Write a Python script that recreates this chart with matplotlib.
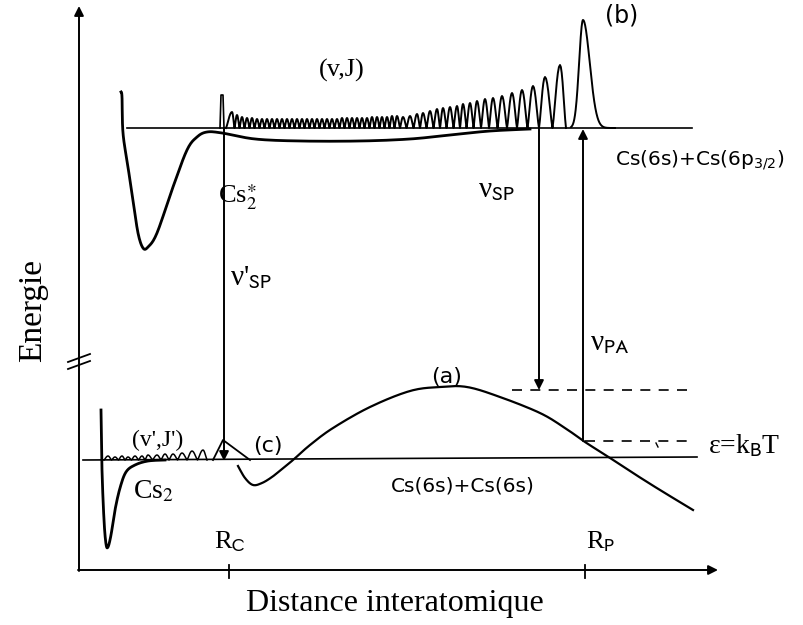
import numpy as np
import matplotlib
matplotlib.use("Agg")
import matplotlib.pyplot as plt

# schematic units: x grows to the right, y grows downwards (pixel-like)
up_pot_x = [121, 122, 123, 128, 133, 138, 143, 148, 157, 173, 187, 197, 207, 222, 255, 300, 360, 410, 450, 490, 530]
up_pot_y = [92, 97, 133, 167, 200, 233, 248, 247, 233, 187, 150, 137, 132, 133, 139, 141, 141, 139, 135, 131, 129]

low_well_x = [101, 102, 104, 106, 108, 111, 115, 120, 126, 135, 148, 165]
low_well_y = [410, 470, 520, 544, 547, 535, 510, 488, 472, 465, 461, 460]

curve_a_x = [238, 245, 253, 262, 272, 282, 293, 310, 333, 370, 410, 440, 467, 500, 540, 565, 585, 607, 633, 660, 693]
curve_a_y = [466, 478, 485, 483, 477, 469, 460, 445, 428, 407, 391, 387, 387, 397, 413, 428, 442, 456, 473, 490, 510]

up_level = 128
low_level = 460

# upper wavefunction peaks (centre, top)
up_peak_x = [222, 232, 237, 242, 247, 252, 257, 262, 267, 272, 277, 282, 287, 292, 297, 302, 307, 312,
             317, 322, 327, 332, 337, 342, 347, 352, 357, 362, 367, 372, 377, 382, 387, 392, 397,
             403, 410, 417, 423, 430, 437, 443, 450, 457, 463, 470, 477, 485, 493, 502, 512, 522,
             533, 545, 560, 583]
up_peak_y = [95, 112, 115, 117, 118, 118, 119, 119, 119, 119, 119, 119, 119, 119, 119, 119, 119, 119,
             119, 119, 119, 119, 119, 118, 118, 118, 118, 118, 118, 117, 117, 117, 117, 116, 116,
             117, 116, 114, 113, 111, 109, 108, 107, 106, 104, 103, 101, 99, 98, 96, 93, 90,
             86, 77, 65, 20]

# lower wavefunction bumps (v',J') and peak (c)
low_peak_x = [108, 115, 122, 128, 135, 142, 148, 157, 165, 173, 182, 192, 203, 223]
low_peak_y = [456, 457, 456, 457, 456, 456, 455, 455, 454, 454, 453, 451, 450, 440]


def smooth(xs, ys, n=12):
    # Catmull-Rom through the points
    p = np.column_stack([xs, ys]).astype(float)
    p = np.vstack([p[0], p, p[-1]])
    out = []
    t = np.linspace(0, 1, n, endpoint=False)[:, None]
    for i in range(1, len(p) - 2):
        p0, p1, p2, p3 = p[i - 1], p[i], p[i + 1], p[i + 2]
        seg = 0.5 * ((2 * p1) + (-p0 + p2) * t + (2 * p0 - 5 * p1 + 4 * p2 - p3) * t ** 2
                     + (-p0 + 3 * p1 - 3 * p2 + p3) * t ** 3)
        out.append(seg)
    out.append(p[-2][None, :])
    out = np.vstack(out)
    return out[:, 0], out[:, 1]


def lobes(cx, top, base, edge=4):
    cx = np.asarray(cx, float)
    xs, ys = [], []
    for i, c in enumerate(cx):
        left = (c - cx[i - 1]) / 2 if i > 0 else edge
        right = (cx[i + 1] - c) / 2 if i < len(cx) - 1 else edge
        t = np.linspace(-1, 1, 15)
        w = np.where(t < 0, left, right)
        xs.append(c + t * w)
        ys.append(base - (base - top[i]) * np.cos(np.pi / 2 * t) ** 1.3)
    return np.concatenate(xs), np.concatenate(ys)


fig = plt.figure(figsize=(8.04, 6.25), dpi=100)
ax = fig.add_axes([0, 0, 1, 1])
ax.set_xlim(0, 804)
ax.set_ylim(625, 0)
ax.axis("off")

serif = "Liberation Serif"
arr = dict(arrowstyle="-|>", lw=1.4, color="k", mutation_scale=14, shrinkA=0, shrinkB=0)

# axes
ax.annotate("", xy=(79, 6), xytext=(79, 571), arrowprops=arr)
ax.annotate("", xy=(718, 570), xytext=(78, 570), arrowprops=arr)
ax.plot([68, 90], [362, 354], color="k", lw=1.3)
ax.plot([68, 90], [369, 361], color="k", lw=1.3)
for xt in [229, 585]:
    ax.plot([xt, xt], [565, 578], color="k", lw=1.3)

# asymptotes
ax.plot([127, 692], [up_level, up_level], color="k", lw=1.2)
ax.plot([83, 697], [low_level, 457], color="k", lw=1.2)

# potentials
x, y = smooth(up_pot_x, up_pot_y)
ax.plot(x, y, color="k", lw=2.0)
x, y = smooth(low_well_x, low_well_y)
ax.plot(x, y, color="k", lw=2.0)
x, y = smooth(curve_a_x, curve_a_y)
ax.plot(x, y, color="k", lw=1.6)

# upper wavefunction
x, y = lobes(up_peak_x[1:-1], up_peak_y[1:-1], up_level, edge=6)
ax.plot(x, y, color="k", lw=1.4)
ax.plot([220, 221, 223, 224], [up_level, up_peak_y[0], up_peak_y[0], up_level], color="k", lw=1.2)
# broad last peak, steeper on the left
c, h = up_peak_x[-1], up_level - up_peak_y[-1]
xx = np.linspace(c - 12, c + 32, 200)
ww = np.where(xx < c, 5.5, 9.5)
ax.plot(xx, up_level - h * np.exp(-((xx - c) / ww) ** 2), color="k", lw=1.4)

# lower wavefunction
x, y = lobes(low_peak_x[:-1], low_peak_y[:-1], low_level)
ax.plot(x, y, color="k", lw=1.1)
ax.plot([213, low_peak_x[-1], 250], [low_level, low_peak_y[-1], low_level], color="k", lw=1.3)

# dashed levels
ax.plot([512, 693], [390, 390], color="k", lw=1.2, ls=(0, (6, 5)))
ax.plot([585, 688], [441, 441], color="k", lw=1.2, ls=(0, (6, 5)))
ax.plot([656, 658], [443, 447], color="k", lw=1)

# transitions
ax.annotate("", xy=(224, low_level + 1), xytext=(224, up_level), arrowprops=arr)
ax.annotate("", xy=(539, 390), xytext=(539, up_level), arrowprops=arr)
ax.annotate("", xy=(583, up_level + 1), xytext=(583, 441), arrowprops=arr)


# labels
def txt(x, y, s, size, ha="center", fam=serif, mfam="stix", **kw):
    ax.text(x, y, s, fontsize=size, ha=ha, va="center", family=fam, math_fontfamily=mfam, **kw)


sans = "DejaVu Sans"
txt(622, 15, "(b)", 17, fam=sans)
txt(342, 70, "(v,J)", 19)
txt(615, 160, r"Cs(6s)+Cs(6p$_{3/2}$)", 14.5, ha="left", fam=sans, mfam="dejavusans")
txt(218, 197, r"Cs$_2^{\ast}$", 19, ha="left")
txt(478, 190, r"ν$_{\mathrm{SP}}$", 21, ha="left", mfam="stixsans")
txt(230, 278, r"ν'$_{\mathrm{SP}}$", 21, ha="left", mfam="stixsans")
txt(590, 343, r"ν$_{\mathrm{PA}}$", 21, ha="left", mfam="stixsans")
txt(447, 377, "(a)", 16, fam=sans)
txt(268, 446, "(c)", 16, fam=sans)
txt(158, 440, "(v',J')", 17)
txt(133, 492, r"Cs$_2$", 20, ha="left")
txt(463, 486, "Cs(6s)+Cs(6s)", 14.5, fam=sans)
txt(708, 446, r"ε=k$_{\mathrm{B}}$T", 20, ha="left", mfam="stixsans")
txt(230, 542, r"R$_{\mathrm{C}}$", 19, mfam="stixsans")
txt(601, 542, r"R$_{\mathrm{P}}$", 19, mfam="stixsans")
txt(33, 310, "Energie", 24, rotation=90)
txt(395, 603, "Distance interatomique", 23)

fig.savefig("out.png", dpi=100)
